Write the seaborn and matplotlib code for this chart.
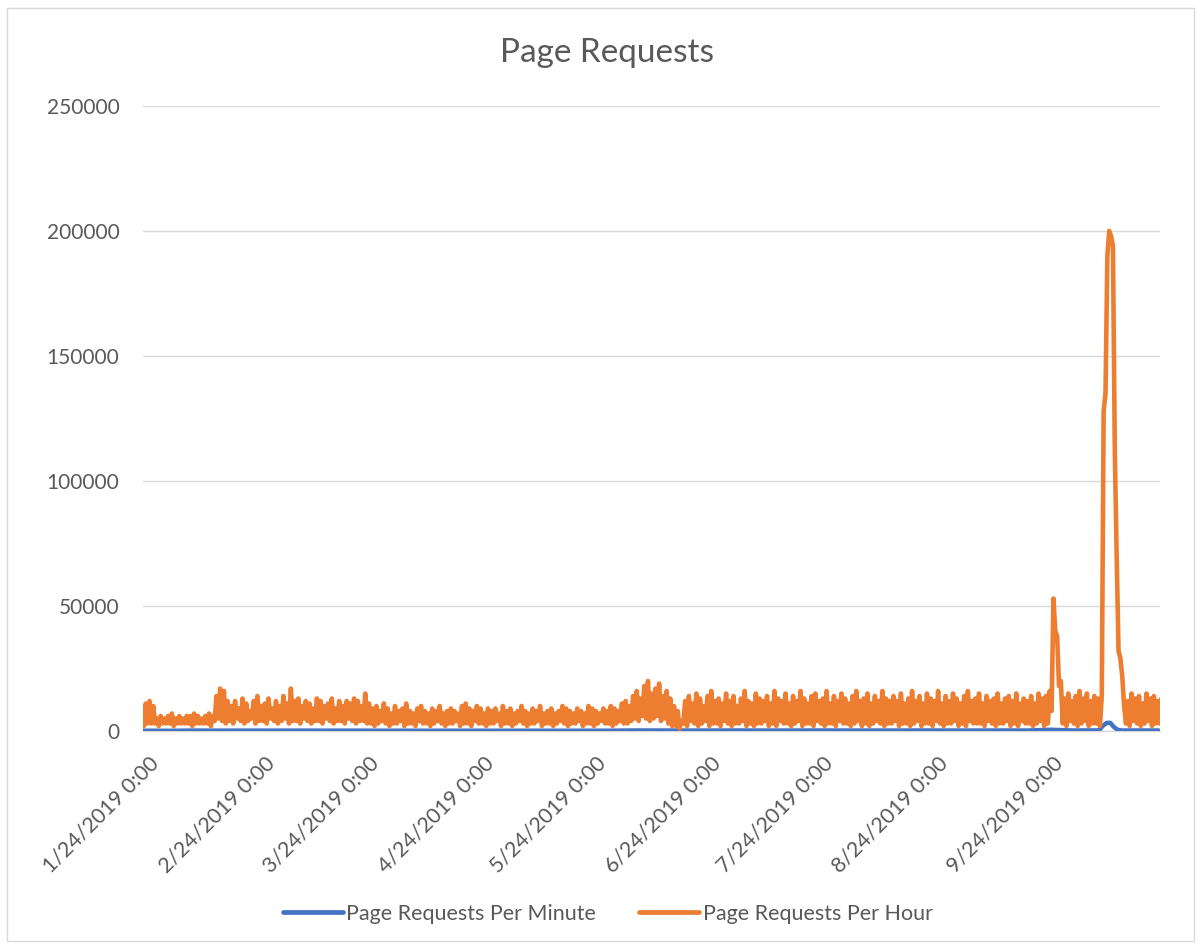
import matplotlib
matplotlib.use("Agg")
import matplotlib.pyplot as plt
from matplotlib.patches import Rectangle
from matplotlib.lines import Line2D
from matplotlib.transforms import ScaledTranslation
import seaborn as sns
import pandas as pd

# ---------------- data (in thousands for hourly) ----------------
start_date = "2019-01-24"

# daily evening peaks of "Page Requests Per Hour" (thousands), one per day from 1/24/2019
hour_peaks_k = [
    11, 12, 10,
    5, 6, 5, 6, 7, 5, 6, 5, 6, 6, 7, 6, 5, 6, 7, 6,
    14, 17, 16, 12,
    10, 12, 9, 13, 11, 8, 12, 14, 10, 11, 13, 9, 12, 10, 14, 11, 17, 12,
    13, 10, 12, 11, 9, 13, 12, 10, 11, 13, 9, 12, 10, 12, 11, 13, 12, 10, 15, 11,
    9, 10, 8, 11, 9, 7, 10, 8, 9, 11, 8, 7, 9, 10, 8, 7, 9, 8, 10, 7, 8, 9, 8, 7, 10, 11, 9, 8, 10, 9, 7, 9,
    8, 9, 7, 10, 8, 9, 7, 8, 10, 8, 7, 9, 8, 10, 7, 8, 9, 7, 8, 10, 9, 8, 7, 9, 8, 7, 10, 9, 8, 7,
    9, 8, 10, 9, 8, 11, 12, 10,
    14, 16, 13, 18, 20, 15, 17, 19, 14, 16, 13, 10, 8,
    4,
    12, 14, 11, 15, 13, 10, 14, 16, 12, 13, 11, 15, 12, 14, 10, 13, 16, 12, 11, 15, 13, 12, 14, 11, 16,
    13, 12, 15, 11, 14, 12, 16, 13, 11, 14, 15, 12, 13, 16, 11, 14, 12, 15, 13, 11, 14, 16, 12, 13, 15,
    11, 14, 12, 16, 13, 12,
    14, 12, 15, 11, 13, 16, 12, 14, 11, 15, 13, 12, 16, 11, 14, 12, 15, 13, 11, 14, 16, 12, 13, 15, 11,
    14, 12, 13, 15, 11, 13, 14, 12, 15, 11, 13, 12, 14, 11, 15, 13, 14, 16,
    53, 38, 20,
    13, 15, 12, 14, 16, 13, 15, 12, 14, 13, 14,
    135, 200, 194, 70, 29, 10,
    12, 15, 13, 14, 11, 15, 13, 14, 12, 13,
]

# daily night-time lows of "Page Requests Per Hour" (thousands)
hour_lows_k = [
    2, 3, 3, 3, 2, 3, 3, 3, 2, 3, 3, 3, 3, 2, 3, 3, 3, 3, 2,
    4, 5, 4, 3, 4, 3, 5, 4, 3, 4, 5, 3, 4, 4, 3, 5, 4, 3, 4, 5, 3, 4, 4, 3, 5, 4, 3, 4, 4, 3,
    5, 4, 3, 4, 4, 3, 5, 4, 3, 4, 4, 3,
    3, 2, 3, 4, 3, 2, 3, 3, 4, 2, 3, 3, 2, 4, 3, 3, 2, 3, 4, 3, 2, 3, 3, 4, 2, 3, 3, 2, 4, 3,
    3, 2, 3, 3, 4, 2, 3, 3, 2, 3, 4, 3, 2, 3, 3, 4, 2, 3, 3, 2, 3, 4, 3, 2, 3, 3, 4, 2, 3, 3,
    2, 3, 4, 3, 3, 2, 3, 4, 3, 3,
    4, 5, 4, 6, 5, 4, 5, 6, 4, 5, 3, 2, 2,
    1,
    3, 2, 4, 3, 2, 3, 4, 2, 3, 3, 2, 4, 3, 2, 3, 3, 4, 2, 3, 2, 3, 3, 4, 2, 3, 2, 4, 3, 3, 2,
    3, 4, 2, 3, 3, 2, 4, 3, 2, 3, 3, 2, 4, 3, 3, 2, 3, 4, 2, 3, 2, 3, 4, 3, 2, 3, 3, 4, 2, 3,
    3, 2, 3, 4, 2, 3, 3, 2, 4, 3, 2, 3, 3, 4, 2, 3, 2, 4, 3, 3, 3, 2, 4, 3, 2, 3, 3, 4, 2, 3,
    2, 4, 3, 3, 2, 3, 4, 2, 3,
    8, 40, 18,
    3, 2, 4, 3, 2, 3, 4, 2, 3, 3, 2,
    128, 190, 198, 112, 32, 22,
    3, 2, 4, 3, 2, 3, 4, 2, 3, 3,
]

# "Page Requests Per Minute": day offsets from 1/24/2019 and values
minute_days = [0, 7, 14, 21, 28, 35, 42, 49, 56, 63, 70, 77, 84, 91, 98, 105, 112, 119, 126,
               133, 140, 147, 154, 161, 168, 175, 182, 189, 196, 203, 210, 217, 224, 231, 238,
               244, 245, 250, 257, 258, 259, 260, 261, 262, 263, 266, 273]
minute_vals = [120, 90, 180, 150, 160, 150, 170, 140, 150, 120, 130, 110, 120, 120, 110, 120, 110,
               120, 130, 220, 200, 190, 200, 210, 190, 200, 210, 200, 190, 200, 210, 200, 190, 210,
               200, 500, 450, 220, 250, 2000, 3200, 3300, 1600, 500, 200, 220, 210]

tick_months = [1, 2, 3, 4, 5, 6, 7, 8, 9]
y_ticks = [0, 50000, 100000, 150000, 200000, 250000]

title = "Page Requests"
label_minute = "Page Requests Per Minute"
label_hour = "Page Requests Per Hour"

# ---------------- build tables ----------------
n = min(len(hour_peaks_k), len(hour_lows_k))
t0 = pd.Timestamp(start_date)
times, vals = [], []
for d in range(n):
    times.append(t0 + pd.Timedelta(days=d, hours=6))
    vals.append(hour_lows_k[d] * 1000)
    times.append(t0 + pd.Timedelta(days=d, hours=18))
    vals.append(hour_peaks_k[d] * 1000)
df_hour = pd.DataFrame({"time": times, "requests": vals})
df_min = pd.DataFrame({"time": [t0 + pd.Timedelta(days=d) for d in minute_days],
                       "requests": minute_vals})

# ---------------- style ----------------
sns.set_theme(style="white")
plt.rcParams["font.family"] = ["Lato", "DejaVu Sans"]

BLUE = "#4472C4"
ORANGE = "#ED7D31"
GRID = "#D9D9D9"
TXT = "#595959"

fig = plt.figure(figsize=(12.01, 9.47), dpi=100)
ax = fig.add_axes([143 / 1201, 1 - 731 / 947, (1160 - 143) / 1201, (731 - 106) / 947])

sns.lineplot(data=df_min, x="time", y="requests", ax=ax, color=BLUE, linewidth=3.2,
             legend=False, zorder=3)
sns.lineplot(data=df_hour, x="time", y="requests", ax=ax, color=ORANGE, linewidth=3.3,
             legend=False, zorder=4)

ax.set_ylim(0, 250000)
ax.set_xlim(t0, t0 + pd.Timedelta(days=273.4))
ax.set_yticks(y_ticks)
ax.set_yticklabels([str(v) for v in y_ticks])
ax.yaxis.grid(True, color=GRID, linewidth=1.0)
ax.set_axisbelow(True)
ax.set_xlabel("")
ax.set_ylabel("")

tick_dates = [pd.Timestamp(2019, m, 24) for m in tick_months]
ax.set_xticks(tick_dates)
ax.set_xticklabels([f"{d.month}/{d.day}/{d.year} 0:00" for d in tick_dates],
                   rotation=45, ha="right", rotation_mode="anchor")
ax.tick_params(axis="x", length=0, pad=16, labelsize=15.5, labelcolor=TXT)
ax.tick_params(axis="y", length=0, pad=17, labelsize=15, labelcolor=TXT)
shift = ScaledTranslation(6 / 100, 0, fig.dpi_scale_trans)
for lab in ax.get_xticklabels():
    lab.set_transform(lab.get_transform() + shift)

for s in ["top", "right", "left"]:
    ax.spines[s].set_visible(False)
ax.spines["bottom"].set_color(GRID)
ax.spines["bottom"].set_linewidth(1.0)

fig.text(0.505, 0.944, title, ha="center", va="center", fontsize=24, color=TXT)

handles = [Line2D([0], [0], color=BLUE, lw=3.4), Line2D([0], [0], color=ORANGE, lw=3.4)]
fig.legend(handles, [label_minute, label_hour], loc="center", bbox_to_anchor=(0.506, 0.035),
           ncol=2, frameon=False, fontsize=15.5, handlelength=2.8, handletextpad=0.15,
           columnspacing=2.0, labelcolor=TXT)

fig.patches.append(Rectangle((0.006, 0.006), 0.988, 0.986, transform=fig.transFigure,
                             fill=False, edgecolor=GRID, linewidth=1.0))

fig.savefig("out.png", dpi=100, facecolor="white")
